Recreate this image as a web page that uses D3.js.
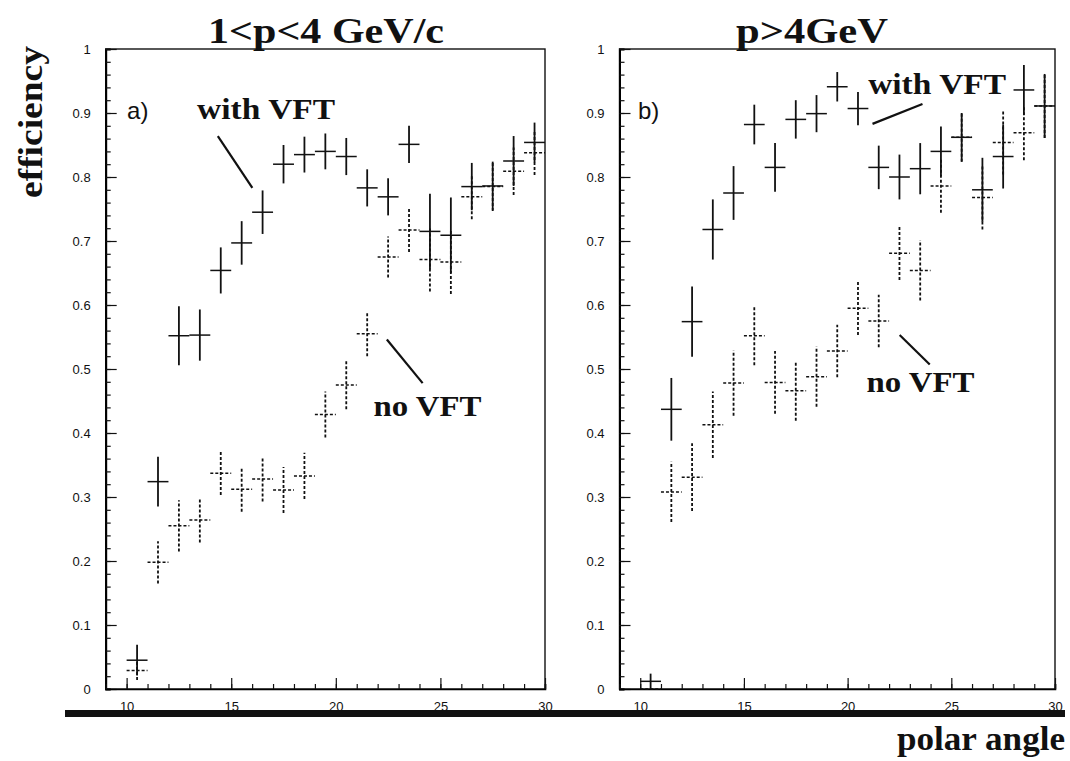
<!DOCTYPE html>
<html>
<head>
<meta charset="utf-8">
<script src="https://cdn.jsdelivr.net/npm/d3@7"></script>
<style>
  body { margin: 0; background: #fff; }
  svg { display: block; }
  .tick text { font-family: "Liberation Sans", Arial, sans-serif; font-size: 13px; fill: #111; }
  .lbl { font-family: "Liberation Serif", "Times New Roman", serif; font-weight: bold; fill: #111; }
</style>
</head>
<body>
<div id="chart"></div>
<script>
// --- Data ---
const polarBins = [10.5, 11.5, 12.5, 13.5, 14.5, 15.5, 16.5, 17.5, 18.5, 19.5,
                   20.5, 21.5, 22.5, 23.5, 24.5, 25.5, 26.5, 27.5, 28.5, 29.5];

// a) 1<p<4 GeV/c
const withVftA    = [0.045, 0.324, 0.552, 0.553, 0.654, 0.697, 0.745, 0.820, 0.835, 0.840,
                     0.832, 0.783, 0.769, 0.851, 0.715, 0.709, 0.785, 0.786, 0.825, 0.854];
const withVftAErr = [0.024, 0.039, 0.046, 0.040, 0.036, 0.034, 0.034, 0.030, 0.028, 0.028,
                     0.029, 0.029, 0.029, 0.029, 0.059, 0.059, 0.037, 0.038, 0.039, 0.031];
const noVftA      = [0.029, 0.198, 0.255, 0.264, 0.337, 0.312, 0.328, 0.311, 0.333, 0.429,
                     0.475, 0.555, 0.675, 0.717, 0.671, 0.667, 0.769, 0.785, 0.809, 0.838];
const noVftAErr   = [0.015, 0.033, 0.040, 0.035, 0.034, 0.035, 0.035, 0.036, 0.036, 0.036,
                     0.038, 0.035, 0.032, 0.034, 0.050, 0.050, 0.035, 0.038, 0.037, 0.035];

// b) p>4GeV
const withVftB    = [0.012, 0.437, 0.574, 0.718, 0.775, 0.882, 0.815, 0.890, 0.899, 0.941,
                     0.907, 0.815, 0.800, 0.813, 0.840, 0.862, 0.780, 0.832, 0.936, 0.911];
const withVftBErr = [0.012, 0.049, 0.055, 0.047, 0.042, 0.031, 0.038, 0.030, 0.029, 0.023,
                     0.026, 0.034, 0.035, 0.040, 0.039, 0.038, 0.050, 0.050, 0.039, 0.050];
const noVftB      = [0.000, 0.308, 0.331, 0.413, 0.478, 0.552, 0.479, 0.466, 0.488, 0.528,
                     0.595, 0.575, 0.681, 0.654, 0.786, 0.862, 0.768, 0.854, 0.869, 0.911];
const noVftBErr   = [0.000, 0.047, 0.053, 0.052, 0.051, 0.046, 0.049, 0.047, 0.047, 0.041,
                     0.042, 0.041, 0.042, 0.047, 0.042, 0.038, 0.050, 0.050, 0.043, 0.050];

const yMajorTicks = [0, 0.1, 0.2, 0.3, 0.4, 0.5, 0.6, 0.7, 0.8, 0.9, 1];
const yTickLabels = ["0", "0.1", "0.2", "0.3", "0.4", "0.5", "0.6", "0.7", "0.8", "0.9", "1"];
const xMajorTicks = [10, 15, 20, 25, 30];
const xTickLabels = ["10", "15", "20", "25", "30"];
const panelTitles = ["1<p<4 GeV/c", "p>4GeV"];
const panelTags = ["a)", "b)"];

// --- SVG ---
const W = 1070, H = 761;
const svg = d3.select("#chart").append("svg").attr("width", W).attr("height", H);

const y = d3.scaleLinear().domain([0, 1]).range([689, 49]);
const binWidth = 1;

const panels = [
  {
    x: d3.scaleLinear().domain([9, 30]).range([105.7, 545]),
    withV: withVftA, withE: withVftAErr, noV: noVftA, noE: noVftAErr,
    title: panelTitles[0], titleX: 326, titleLen: 236,
    tag: panelTags[0], tagPos: [10.02, 0.891],
    withTxt: [13.37, 0.891], withLine: [[14.36, 0.864], [16.01, 0.783]],
    noTxt: [21.80, 0.427], noLine: [[22.44, 0.546], [24.15, 0.478]]
  },
  {
    x: d3.scaleLinear().domain([9, 30]).range([619.5, 1055]),
    withV: withVftB, withE: withVftBErr, noV: noVftB, noE: noVftBErr,
    title: panelTitles[1], titleX: 812, titleLen: 152,
    tag: panelTags[1], tagPos: [9.89, 0.891],
    withTxt: [20.99, 0.929], withLine: [[21.20, 0.883], [23.61, 0.914]],
    noTxt: [20.91, 0.464], noLine: [[22.51, 0.553], [23.96, 0.507]]
  }
];

const minorY = d3.range(0, 1.001, 0.02);
const minorX = d3.range(9, 30.001, 1);

panels.forEach(p => {
  const g = svg.append("g");
  const [x0, x1] = p.x.range();

  // frame
  g.append("rect")
    .attr("x", x0).attr("y", y(1))
    .attr("width", x1 - x0).attr("height", y(0) - y(1))
    .attr("fill", "none").attr("stroke", "#111").attr("stroke-width", 1.4);

  // y axis: minor + major ticks pointing inward
  g.append("g").attr("transform", `translate(${x0},0)`)
    .call(d3.axisLeft(y).tickValues(minorY).tickSize(-5).tickFormat(""))
    .call(a => a.select(".domain").attr("stroke-width", 2));
  g.append("g").attr("transform", `translate(${x0},0)`)
    .call(d3.axisLeft(y).tickValues(yMajorTicks).tickSize(-11).tickPadding(15)
      .tickFormat((d, i) => yTickLabels[i]))
    .call(a => a.select(".domain").remove())
    .call(a => a.selectAll(".tick text").attr("dy", "0.35em"));

  // x axis: ticks pointing up
  g.append("g").attr("transform", `translate(0,${y(0)})`)
    .call(d3.axisBottom(p.x).tickValues(minorX).tickSize(-5).tickFormat(""))
    .call(a => a.select(".domain").attr("stroke-width", 1.6));
  g.append("g").attr("transform", `translate(0,${y(0)})`)
    .call(d3.axisBottom(p.x).tickValues(xMajorTicks).tickSize(-11).tickPadding(10)
      .tickFormat((d, i) => xTickLabels[i]))
    .call(a => a.select(".domain").remove())
    .call(a => a.selectAll(".tick text").attr("dy", "0.9em"));

  g.selectAll(".tick line").attr("stroke", "#111").attr("stroke-width", 1.2);

  // error-bar crosses
  const drawSeries = (vals, errs, dash, cls) => {
    const s = g.append("g").attr("class", cls)
      .attr("stroke", "#111").attr("fill", "none")
      .attr("stroke-dasharray", dash);
    const pts = polarBins.map((b, i) => ({ b, v: vals[i], e: errs[i] }));
    s.selectAll("line.h").data(pts).join("line").attr("class", "h")
      .attr("x1", d => p.x(d.b - binWidth / 2)).attr("x2", d => p.x(d.b + binWidth / 2))
      .attr("y1", d => y(d.v)).attr("y2", d => y(d.v))
      .attr("stroke-width", 1.5);
    s.selectAll("line.v").data(pts.filter(d => d.e > 0)).join("line").attr("class", "v")
      .attr("x1", d => p.x(d.b)).attr("x2", d => p.x(d.b))
      .attr("y1", d => y(d.v - d.e)).attr("y2", d => y(d.v + d.e))
      .attr("stroke-width", 1.8);
  };
  drawSeries(p.noV, p.noE, "3,2", "no-vft");
  drawSeries(p.withV, p.withE, null, "with-vft");

  // titles and annotations
  g.append("text").attr("class", "lbl")
    .attr("x", p.titleX).attr("y", 43).attr("text-anchor", "middle")
    .attr("font-size", 36).attr("textLength", p.titleLen).attr("lengthAdjust", "spacingAndGlyphs")
    .text(p.title);

  g.append("text")
    .attr("x", p.x(p.tagPos[0])).attr("y", y(p.tagPos[1]))
    .attr("font-family", "Liberation Sans, Arial, sans-serif").attr("font-size", 24)
    .attr("fill", "#111").text(p.tag);

  g.append("text").attr("class", "lbl")
    .attr("x", p.x(p.withTxt[0])).attr("y", y(p.withTxt[1]))
    .attr("font-size", 30).attr("textLength", 138).attr("lengthAdjust", "spacingAndGlyphs")
    .text("with VFT");
  g.append("text").attr("class", "lbl")
    .attr("x", p.x(p.noTxt[0])).attr("y", y(p.noTxt[1]))
    .attr("font-size", 30).attr("textLength", 108).attr("lengthAdjust", "spacingAndGlyphs")
    .text("no VFT");

  [p.withLine, p.noLine].forEach(l => {
    g.append("line")
      .attr("x1", p.x(l[0][0])).attr("y1", y(l[0][1]))
      .attr("x2", p.x(l[1][0])).attr("y2", y(l[1][1]))
      .attr("stroke", "#111").attr("stroke-width", 2.2);
  });
});

// thick rule under the panels
svg.append("rect").attr("x", 65).attr("y", 710).attr("width", 1000).attr("height", 7).attr("fill", "#111");

// axis titles
svg.append("text").attr("class", "lbl")
  .attr("transform", "translate(42,122) rotate(-90)")
  .attr("text-anchor", "middle").attr("font-size", 34)
  .attr("textLength", 152).attr("lengthAdjust", "spacingAndGlyphs")
  .text("efficiency");

svg.append("text").attr("class", "lbl")
  .attr("x", 1065).attr("y", 750).attr("text-anchor", "end")
  .attr("font-size", 34).attr("textLength", 168).attr("lengthAdjust", "spacingAndGlyphs")
  .text("polar angle");
</script>
</body>
</html>
